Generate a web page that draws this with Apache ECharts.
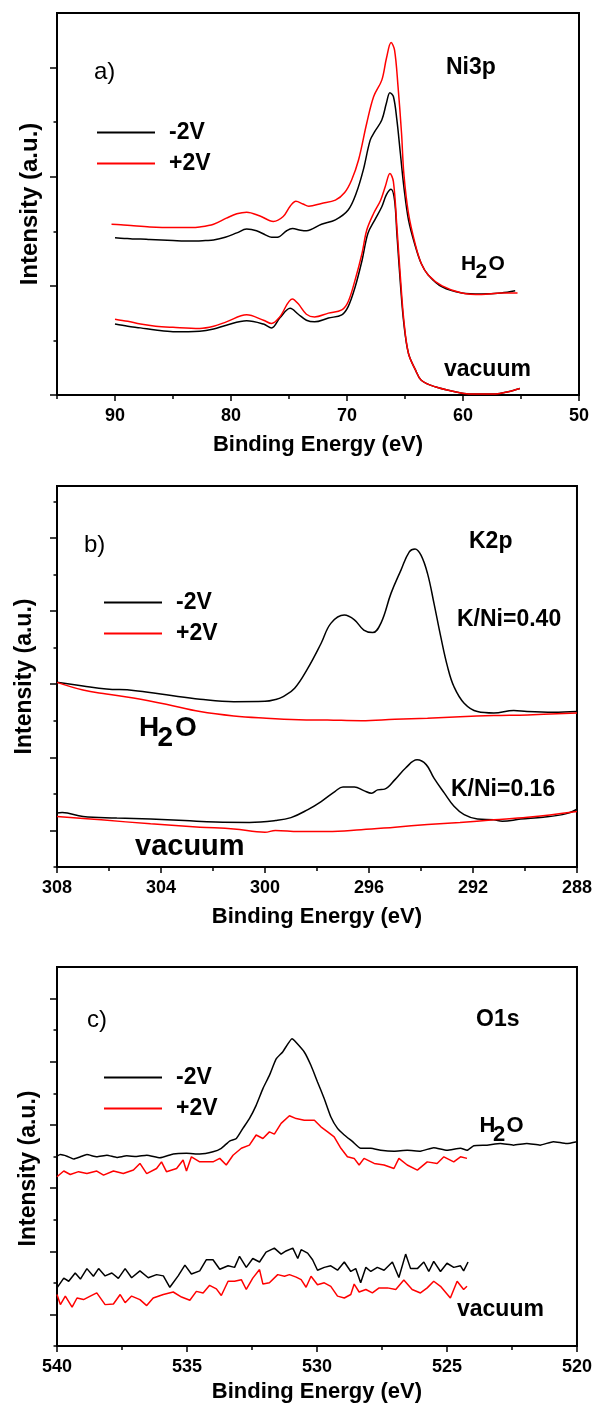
<!DOCTYPE html>
<html><head><meta charset="utf-8">
<script src="https://cdn.jsdelivr.net/npm/echarts@6/dist/echarts.min.js"></script>
<style>html,body{margin:0;padding:0;background:#fff}#c{width:595px;height:1404px}</style>
</head><body><div id="c"></div>
<script>
// ---------- Panel a: Ni3p ----------
const niH2oNeg = [[90.0,2.88],[89.2,2.87],[88.5,2.86],[87.8,2.86],[87.0,2.85],[86.0,2.84],[85.0,2.83],[84.0,2.82],[83.0,2.82],[82.2,2.83],[81.5,2.84],[80.5,2.89],[79.5,2.97],[78.65,3.04],[77.8,3.01],[77.0,2.93],[76.5,2.89],[76.0,2.89],[75.2,3.01],[74.7,3.05],[74.0,3.02],[73.5,3.01],[72.2,3.13],[71.0,3.21],[69.9,3.39],[69.2,3.70],[68.6,4.12],[68.0,4.67],[67.6,4.83],[67.0,5.04],[66.6,5.35],[66.3,5.54],[66.0,5.47],[65.7,5.04],[65.4,4.43],[65.1,3.82],[64.7,3.21],[64.1,2.72],[63.6,2.41],[63.0,2.20],[61.8,1.98],[60.1,1.87],[58.4,1.85],[56.7,1.87],[55.5,1.91]];
const niH2oPos = [[90.3,3.13],[89.5,3.12],[88.4,3.10],[87.0,3.08],[85.0,3.07],[83.5,3.07],[82.7,3.08],[81.5,3.13],[80.4,3.24],[79.5,3.32],[78.65,3.35],[77.5,3.28],[76.35,3.18],[75.5,3.27],[74.9,3.46],[74.4,3.55],[73.8,3.50],[73.3,3.46],[72.2,3.51],[71.0,3.57],[70.2,3.71],[69.6,3.94],[69.0,4.31],[68.3,4.98],[67.7,5.47],[67.0,5.77],[66.6,6.17],[66.2,6.46],[65.9,6.32],[65.6,5.65],[65.3,4.80],[65.1,4.06],[64.7,3.33],[64.1,2.75],[63.6,2.41],[63.0,2.20],[61.8,2.00],[60.1,1.87],[58.4,1.84],[56.7,1.87],[55.3,1.87]];
const niVacNeg = [[90.0,1.30],[88.9,1.26],[87.8,1.23],[86.5,1.19],[85.0,1.16],[82.7,1.17],[81.5,1.21],[80.4,1.28],[78.65,1.36],[77.2,1.30],[76.5,1.23],[75.8,1.41],[74.9,1.59],[74.2,1.48],[73.5,1.37],[72.8,1.34],[71.6,1.41],[70.45,1.47],[69.9,1.62],[69.3,1.98],[68.7,2.47],[68.2,2.96],[67.6,3.21],[67.0,3.45],[66.6,3.67],[66.2,3.77],[65.9,3.57],[65.7,2.96],[65.4,2.05],[65.1,1.31],[64.7,0.76],[64.1,0.46],[63.6,0.27],[62.4,0.15],[60.7,0.06],[59.5,0.02],[57.2,0.02],[56.1,0.06],[55.1,0.12]];
const niVacPos = [[90.0,1.39],[88.9,1.35],[87.8,1.30],[86.5,1.26],[85.0,1.24],[82.7,1.22],[81.5,1.26],[80.4,1.34],[78.65,1.47],[77.2,1.37],[76.5,1.31],[75.8,1.43],[74.7,1.76],[74.2,1.67],[73.5,1.48],[72.8,1.43],[71.6,1.50],[70.45,1.56],[69.9,1.71],[69.3,2.11],[68.7,2.60],[68.3,3.02],[67.7,3.33],[67.1,3.57],[66.7,3.82],[66.3,4.06],[66.0,3.91],[65.7,3.08],[65.4,2.17],[65.1,1.37],[64.7,0.76],[64.1,0.46],[63.6,0.27],[62.4,0.15],[60.7,0.06],[59.5,0.02],[57.2,0.02],[56.1,0.06],[55.1,0.12]];

// ---------- Panel b: K2p ----------
const kH2oNeg = [[308,5.05],[307.0,4.95],[306.1,4.87],[305.06,4.83],[303.8,4.71],[302.5,4.59],[301.2,4.52],[300.0,4.53],[299.6,4.58],[299.3,4.66],[298.86,4.89],[298.35,5.44],[297.84,6.12],[297.46,6.67],[296.95,6.89],[296.56,6.76],[296.2,6.48],[295.86,6.41],[295.54,6.67],[295.15,7.49],[294.77,8.12],[294.45,8.62],[294.23,8.70],[294.0,8.53],[293.75,8.03],[293.5,7.21],[293.24,6.30],[292.98,5.48],[292.73,4.93],[292.34,4.48],[291.83,4.25],[291.2,4.21],[290.43,4.28],[289.92,4.25],[288.9,4.23],[288,4.25]];
const kH2oPos = [[308,5.05],[307.0,4.84],[306.1,4.73],[305.06,4.62],[303.8,4.45],[302.5,4.25],[301.2,4.13],[299.95,4.07],[298.7,4.03],[297.6,4.02],[296.3,4.00],[295.0,4.04],[293.75,4.07],[292.5,4.11],[291.2,4.14],[289.9,4.16],[288,4.21]];
const kVacNeg = [[308,1.48],[307.8,1.49],[307.0,1.38],[305.7,1.34],[304.4,1.31],[303.1,1.27],[301.9,1.23],[300.6,1.22],[299.6,1.27],[299.0,1.35],[298.35,1.57],[297.84,1.79],[297.3,2.07],[297.0,2.19],[296.56,2.19],[296.2,2.09],[295.9,2.02],[295.67,2.11],[295.4,2.13],[295.0,2.39],[294.6,2.70],[294.15,2.93],[293.8,2.80],[293.5,2.43],[293.1,2.02],[292.73,1.66],[292.34,1.43],[291.83,1.31],[291.2,1.29],[290.87,1.25],[290.17,1.31],[289.3,1.36],[288.4,1.46],[288,1.58]];
const kVacPos = [[308,1.38],[306.3,1.29],[304.4,1.18],[302.5,1.09],[301.2,1.04],[300.0,0.95],[299.6,1.00],[298.7,0.97],[297.6,0.97],[296.3,1.02],[295.0,1.09],[293.75,1.16],[292.5,1.22],[291.2,1.29],[289.9,1.36],[288,1.52]];

// ---------- Panel c: O1s ----------
const oH2oNeg = [[540.0,6.01],[539.87,6.06],[539.62,6.01],[539.36,5.92],[539.1,5.99],[538.85,6.06],[538.47,5.99],[538.08,6.04],[537.7,5.97],[537.32,6.02],[536.94,6.00],[536.55,6.04],[536.04,5.96],[535.53,6.08],[535.02,6.10],[534.51,6.08],[534.0,6.15],[533.68,6.26],[533.36,6.49],[533.1,6.57],[532.85,6.89],[532.6,7.20],[532.34,7.62],[532.08,8.15],[531.83,8.57],[531.57,9.09],[531.32,9.31],[530.96,9.73],[530.87,9.67],[530.49,9.31],[530.23,8.88],[529.98,8.36],[529.72,7.83],[529.47,7.26],[529.21,6.89],[528.95,6.68],[528.63,6.47],[528.32,6.26],[527.93,6.26],[527.55,6.20],[527.04,6.17],[526.53,6.20],[526.02,6.17],[525.51,6.28],[525.0,6.20],[524.48,6.26],[524.23,6.20],[523.97,6.34],[523.46,6.36],[522.95,6.41],[522.44,6.36],[521.93,6.41],[521.42,6.36],[520.91,6.47],[520.4,6.41],[520.0,6.47]];
const oH2oPos = [[540.0,5.36],[539.74,5.54],[539.49,5.43],[539.17,5.52],[538.85,5.46],[538.47,5.54],[538.21,5.41],[537.83,5.54],[537.45,5.46],[537.06,5.57],[536.81,5.78],[536.55,5.46],[536.17,5.62],[535.98,5.83],[535.79,5.52],[535.4,5.62],[535.15,5.89],[535.02,5.54],[534.83,5.99],[534.51,5.83],[534.0,5.83],[533.74,5.94],[533.49,5.73],[533.23,6.04],[532.91,6.26],[532.6,6.36],[532.34,6.68],[532.08,6.57],[531.83,6.78],[531.64,6.71],[531.38,7.05],[531.06,7.29],[530.8,7.20],[530.49,7.15],[530.1,7.15],[529.85,6.94],[529.59,6.78],[529.34,6.62],[529.08,6.26],[528.83,5.99],[528.57,5.94],[528.38,5.73],[528.19,5.94],[527.8,5.78],[527.42,5.73],[527.04,5.62],[526.85,5.94],[526.53,5.73],[526.14,5.57],[525.76,5.83],[525.38,5.78],[525.12,5.99],[524.74,5.83],[524.48,5.99],[524.23,5.94]];
const oVacNeg = [[540.0,1.84],[539.74,2.15],[539.55,2.05],[539.3,2.31],[539.1,2.12],[538.85,2.45],[538.6,2.21],[538.4,2.45],[538.15,2.22],[537.89,2.31],[537.64,2.14],[537.38,2.45],[537.13,2.16],[536.81,2.38],[536.49,2.16],[536.17,2.26],[535.91,2.22],[535.66,1.86],[535.34,2.22],[535.08,2.56],[534.83,2.28],[534.51,2.38],[534.26,2.73],[534.0,2.73],[533.74,2.43],[533.42,2.54],[533.17,2.49],[532.98,2.84],[532.72,2.49],[532.47,2.77],[532.21,2.66],[531.96,2.97],[531.64,3.10],[531.38,2.91],[531.19,3.01],[530.93,3.10],[530.74,2.77],[530.61,3.05],[530.36,2.94],[530.17,2.73],[529.98,2.40],[529.72,2.49],[529.47,2.54],[529.21,2.40],[528.95,2.66],[528.7,2.36],[528.51,2.45],[528.32,2.00],[528.12,2.49],[527.93,2.36],[527.68,2.49],[527.42,2.40],[527.1,2.66],[526.85,2.17],[526.59,2.91],[526.4,2.45],[526.14,2.45],[525.89,2.66],[525.7,2.36],[525.51,2.68],[525.25,2.36],[525.0,2.62],[524.74,2.49],[524.48,2.54],[524.36,2.38],[524.19,2.66]];
const oVacPos = [[540.0,1.63],[539.87,1.31],[539.68,1.58],[539.42,1.23],[539.23,1.52],[538.98,1.47],[538.72,1.58],[538.47,1.68],[538.15,1.31],[537.83,1.33],[537.57,1.63],[537.38,1.37],[537.13,1.58],[536.81,1.47],[536.55,1.28],[536.3,1.52],[535.91,1.63],[535.53,1.71],[535.21,1.55],[534.89,1.45],[534.64,1.73],[534.38,1.68],[534.13,1.92],[533.87,1.81],[533.68,1.60],[533.42,2.05],[533.17,2.05],[532.91,2.10],[532.72,1.79],[532.47,2.15],[532.21,2.42],[532.08,1.96],[531.83,2.00],[531.51,2.26],[531.25,2.21],[531.06,2.26],[530.8,2.18],[530.61,2.10],[530.42,1.86],[530.23,2.21],[529.98,1.94],[529.72,2.00],[529.47,1.89],[529.21,1.58],[528.95,1.52],[528.7,1.63],[528.57,1.96],[528.38,1.71],[528.12,1.79],[527.87,1.68],[527.61,1.84],[527.29,1.84],[526.97,1.79],[526.66,2.09],[526.34,1.79],[526.02,1.68],[525.76,1.84],[525.51,2.05],[525.25,1.89],[524.87,1.52],[524.61,2.05],[524.36,1.79],[524.23,1.89]];

// ---------- Axis ticks / labels ----------
const niXLabels = [50,60,70,80,90];
const niXMajor = [50,60,70,80,90];
const niXMinor = [55,65,75,85,95];
const kXLabels = [288,292,296,300,304,308];
const kXMajor = [288,292,296,300,304,308];
const kXMinor = [290,294,298,302,306];
const oXLabels = [520,525,530,535,540];
const oXMajor = [520,525,530,535,540];
const oXMinor = [522.5,527.5,532.5,537.5];
const niYMajor = [0,2,4,6], niYMinor = [1,3,5];
const kYMajor = [1,3,5,7,9], kYMinor = [0,2,4,6,8,10];
const oYMajor = [1,3,5,7,9,11], oYMinor = [0,2,4,6,8,10];
const seriesNames = ['-2V','+2V'];

const FONT = '"Liberation Sans", Arial, Helvetica, sans-serif';
const BLACK = '#000000', RED = '#ff0000';

const grids = [
  {left:57, top:13, width:522, height:382},
  {left:57, top:486, width:522, height:381},
  {left:57, top:967, width:522, height:381}
].map(g => Object.assign({show:true, borderColor:'#000', borderWidth:2, containLabel:false}, g));

function xPair(g, min, max, majors, minors, labels, nameGap) {
  return [{
    type:'value', gridIndex:g, min:min, max:max, inverse:true, position:'bottom',
    axisLine:{show:true, onZero:false, lineStyle:{color:'#000', width:2}},
    axisTick:{show:true, length:6, customValues:majors, lineStyle:{color:'#000', width:1.5}},
    axisLabel:{show:true, customValues:labels, margin:12, color:'#000', fontFamily:FONT, fontWeight:'bold', fontSize:18},
    splitLine:{show:false},
    name:'Binding Energy (eV)', nameLocation:'middle', nameGap:nameGap,
    nameTextStyle:{color:'#000', fontFamily:FONT, fontWeight:'bold', fontSize:22}
  },{
    type:'value', gridIndex:g, min:min, max:max, inverse:true, position:'bottom',
    axisLine:{show:false, onZero:false},
    axisTick:{show:true, length:4, customValues:minors, lineStyle:{color:'#000', width:1.5}},
    axisLabel:{show:false}, splitLine:{show:false}
  }];
}
function yPair(g, max, majors, minors, nameGap, pad, size) {
  return [{
    type:'value', gridIndex:g, min:0, max:max, position:'left',
    axisLine:{show:true, onZero:false, lineStyle:{color:'#000', width:2}},
    axisTick:{show:true, length:7, customValues:majors, lineStyle:{color:'#000', width:1.5}},
    axisLabel:{show:false}, splitLine:{show:false},
    name:'Intensity (a.u.)', nameLocation:'middle', nameGap:nameGap,
    nameTextStyle:{color:'#000', fontFamily:FONT, fontWeight:'bold', fontSize:size, padding:pad}
  },{
    type:'value', gridIndex:g, min:0, max:max, position:'left',
    axisLine:{show:false, onZero:false},
    axisTick:{show:true, length:3.5, customValues:minors, lineStyle:{color:'#000', width:1.5}},
    axisLabel:{show:false}, splitLine:{show:false}
  }];
}

const xAxes = [].concat(
  xPair(0, 50, 95, niXMajor, niXMinor, niXLabels, 39),
  xPair(1, 288, 308, kXMajor, kXMinor, kXLabels, 39),
  xPair(2, 520, 540, oXMajor, oXMinor, oXLabels, 35)
);
const yAxes = [].concat(
  yPair(0, 7, niYMajor, niYMinor, 15, [0,0,0,0], 24),
  yPair(1, 10.42, kYMajor, kYMinor, 21, [0,0,0,0], 23),
  yPair(2, 12, oYMajor, oYMinor, 17, [0,24,0,0], 23)
);

function line(name, data, color, g, smooth) {
  return {
    type:'line', name:name, data:data, xAxisIndex:2*g, yAxisIndex:2*g,
    symbol:'none', showSymbol:false, smooth:smooth,
    lineStyle:{color:color, width:1.5}, itemStyle:{color:color},
    emphasis:{disabled:true}, animation:false
  };
}
const series = [
  line(seriesNames[0], niH2oNeg, BLACK, 0, 0.35), line(seriesNames[0], niVacNeg, BLACK, 0, 0.35),
  line(seriesNames[1], niH2oPos, RED, 0, 0.35),   line(seriesNames[1], niVacPos, RED, 0, 0.35),
  line(seriesNames[0], kH2oNeg, BLACK, 1, 0.4),  line(seriesNames[0], kVacNeg, BLACK, 1, 0.4),
  line(seriesNames[1], kH2oPos, RED, 1, 0.4),    line(seriesNames[1], kVacPos, RED, 1, 0.4),
  line(seriesNames[0], oH2oNeg, BLACK, 2, 0.15),  line(seriesNames[0], oVacNeg, BLACK, 2, false),
  line(seriesNames[1], oH2oPos, RED, 2, false),    line(seriesNames[1], oVacPos, RED, 2, false)
];

function legend(left, top) {
  return {
    data:seriesNames.map(n => ({name:n, icon:'rect'})), orient:'vertical', left:left, top:top, padding:0,
    itemWidth:58, itemHeight:2, itemGap:8, selectedMode:false,
    textStyle:{color:'#000', fontFamily:FONT, fontWeight:'bold', fontSize:23, lineHeight:23, padding:[0,0,0,9]}
  };
}

function txt(s, x, y, size, weight) {
  return {type:'text', x:x, y:y, silent:true,
    style:{text:s, fill:'#000', font:(weight||'bold') + ' ' + size + 'px ' + FONT, textAlign:'left', textVerticalAlign:'middle'}};
}
function h2o(x, y, size, hx2, hxO, dy) {
  return [txt('H', x, y, size), txt('2', hx2, y + dy, size), txt('O', hxO, y, size)];
}

const graphics = [].concat(
  [txt('a)', 94, 72, 24, 'normal'), txt('Ni3p', 446, 68, 23), txt('vacuum', 444, 370, 23)],
  h2o(461, 264, 21, 475.5, 488.5, 8),
  [txt('b)', 84, 545, 24, 'normal'), txt('K2p', 469, 542, 23), txt('K/Ni=0.40', 457, 620, 23), txt('K/Ni=0.16', 451, 790, 23), txt('vacuum', 135, 847, 29)],
  h2o(139, 728, 28, 157.5, 175, 10),
  [txt('c)', 87, 1020, 24, 'normal'), txt('O1s', 476, 1020, 23), txt('vacuum', 457, 1310, 23)],
  h2o(479.5, 1126, 22, 493, 506.5, 9)
);

const chart = echarts.init(document.getElementById('c'), null, {renderer:'canvas'});
chart.setOption({
  animation:false,
  backgroundColor:'#ffffff',
  grid:grids,
  xAxis:xAxes,
  yAxis:yAxes,
  legend:[legend(97, 121), legend(104, 591), legend(104, 1066)],
  series:series,
  graphic:graphics
});
</script>
</body></html>
